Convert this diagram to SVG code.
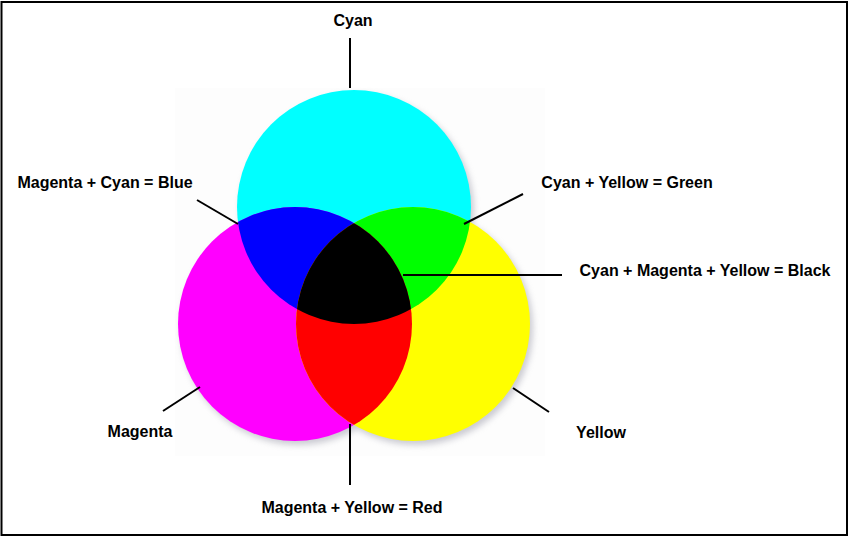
<svg xmlns="http://www.w3.org/2000/svg" width="850" height="538" viewBox="0 0 850 538">
  <style>
    .lbl { font-family: "Liberation Sans", Arial, sans-serif; font-weight: bold; font-size: 16px; fill: #000; text-anchor: middle; }
    .lead { stroke: #000; stroke-width: 2; fill: none; }
  </style>
  <defs>
    <filter id="shadow" x="-20%" y="-20%" width="140%" height="140%">
      <feGaussianBlur stdDeviation="3"/>
    </filter>
    <clipPath id="clipC"><circle cx="354" cy="207" r="117"/></clipPath>
    <clipPath id="clipM"><circle cx="295" cy="324" r="117"/></clipPath>
    <clipPath id="clipY"><circle cx="413" cy="324" r="117"/></clipPath>
  </defs>
  <rect x="0" y="0" width="850" height="538" fill="#ffffff"/>
  <rect x="175" y="88" width="370" height="368" fill="#fdfdfd"/>
  <rect x="1.5" y="2" width="845.5" height="533" fill="none" stroke="#000" stroke-width="2"/>

  <g id="shadows" filter="url(#shadow)" fill="#9a9aa8" opacity="0.5">
    <circle cx="357" cy="211" r="117"/>
    <circle cx="298" cy="328" r="117"/>
    <circle cx="416" cy="328" r="117"/>
  </g>

  <g id="cyan"><circle cx="354" cy="207" r="117" fill="#00ffff"/></g>
  <g id="magenta"><circle cx="295" cy="324" r="117" fill="#ff00ff"/></g>
  <g id="yellow"><circle cx="413" cy="324" r="117" fill="#ffff00"/></g>
  <g id="blue" clip-path="url(#clipM)"><circle cx="354" cy="207" r="117" fill="#0000ff"/></g>
  <g id="green" clip-path="url(#clipY)"><circle cx="354" cy="207" r="117" fill="#00ff00"/></g>
  <g id="red" clip-path="url(#clipY)"><circle cx="295" cy="324" r="117" fill="#ff0000"/></g>
  <g id="black" clip-path="url(#clipM)"><g clip-path="url(#clipY)"><circle cx="354" cy="207" r="117" fill="#000000"/></g></g>

  <g id="connectors">
    <line class="lead" x1="350" y1="38" x2="350" y2="88"/>
    <line class="lead" x1="197" y1="200" x2="238" y2="224"/>
    <line class="lead" x1="523" y1="194" x2="464" y2="224"/>
    <line class="lead" x1="403" y1="275" x2="562" y2="275"/>
    <line class="lead" x1="163" y1="411" x2="200" y2="387"/>
    <line class="lead" x1="513" y1="388" x2="549" y2="412"/>
    <line class="lead" x1="350" y1="424" x2="350" y2="485"/>
  </g>

  <g id="labels">
    <text class="lbl" x="353" y="26">Cyan</text>
    <text class="lbl" x="105" y="188">Magenta + Cyan = Blue</text>
    <text class="lbl" x="627" y="188">Cyan + Yellow = Green</text>
    <text class="lbl" x="705" y="276">Cyan + Magenta + Yellow = Black</text>
    <text class="lbl" x="140" y="437">Magenta</text>
    <text class="lbl" x="601" y="438">Yellow</text>
    <text class="lbl" x="352" y="513">Magenta + Yellow = Red</text>
  </g>
</svg>
